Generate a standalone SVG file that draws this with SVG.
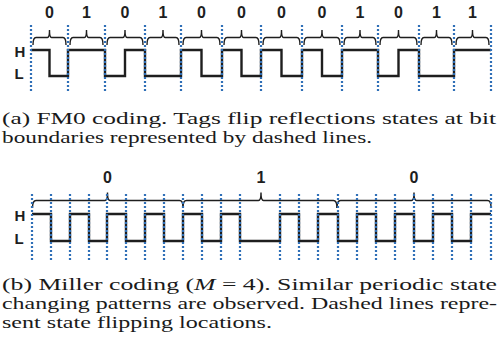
<svg xmlns="http://www.w3.org/2000/svg" width="500" height="348" viewBox="0 0 500 348">
<style>
.wave{fill:none;stroke:#1e1e1e;stroke-width:2.4;stroke-linejoin:miter}
.dash{stroke:#2f6fb7;stroke-width:2.2;stroke-dasharray:2 2}
.brace{fill:none;stroke:#1e1e1e;stroke-width:1.4}
.lbl{font-family:"Liberation Sans",Arial,sans-serif;font-weight:bold;fill:#1e1e1e;text-anchor:middle}
.bit{font-size:16px}
.lv{font-size:15px}
.cap{font-family:"Liberation Serif","Times New Roman",serif;font-size:17px;fill:#1a1a1a}
</style>
<rect width="500" height="348" fill="#ffffff"/>

<g id="fm0">
<path class="wave" d="M31,50 H49.5 V76 H68 V50 H105 V76 H125 V50 H145 V76 H181 V50 H201.5 V76 H222 V50 H241.5 V76 H261 V50 H281.5 V76 H302 V50 H322 V76 H342 V50 H378 V76 H398.5 V50 H419 V76 H454 V50 H491"/>
<g id="fm0-braces">
<path class="brace" d="M33,45 Q33,37.5 36,37.5 H47.5 Q49.5,37.5 49.5,30 Q49.5,37.5 51.5,37.5 H63 Q66,37.5 66,45"/>
<path class="brace" d="M70,45 Q70,37.5 73,37.5 H84.5 Q86.5,37.5 86.5,30 Q86.5,37.5 88.5,37.5 H100 Q103,37.5 103,45"/>
<path class="brace" d="M107,45 Q107,37.5 110,37.5 H123 Q125,37.5 125,30 Q125,37.5 127,37.5 H140 Q143,37.5 143,45"/>
<path class="brace" d="M147,45 Q147,37.5 150,37.5 H161 Q163,37.5 163,30 Q163,37.5 165,37.5 H176 Q179,37.5 179,45"/>
<path class="brace" d="M183,45 Q183,37.5 186,37.5 H199.5 Q201.5,37.5 201.5,30 Q201.5,37.5 203.5,37.5 H217 Q220,37.5 220,45"/>
<path class="brace" d="M224,45 Q224,37.5 227,37.5 H239.5 Q241.5,37.5 241.5,30 Q241.5,37.5 243.5,37.5 H256 Q259,37.5 259,45"/>
<path class="brace" d="M263,45 Q263,37.5 266,37.5 H279.5 Q281.5,37.5 281.5,30 Q281.5,37.5 283.5,37.5 H297 Q300,37.5 300,45"/>
<path class="brace" d="M304,45 Q304,37.5 307,37.5 H320 Q322,37.5 322,30 Q322,37.5 324,37.5 H337 Q340,37.5 340,45"/>
<path class="brace" d="M344,45 Q344,37.5 347,37.5 H358 Q360,37.5 360,30 Q360,37.5 362,37.5 H373 Q376,37.5 376,45"/>
<path class="brace" d="M380,45 Q380,37.5 383,37.5 H396.5 Q398.5,37.5 398.5,30 Q398.5,37.5 400.5,37.5 H414 Q417,37.5 417,45"/>
<path class="brace" d="M421,45 Q421,37.5 424,37.5 H434.5 Q436.5,37.5 436.5,30 Q436.5,37.5 438.5,37.5 H449 Q452,37.5 452,45"/>
<path class="brace" d="M456,45 Q456,37.5 459,37.5 H470.5 Q472.5,37.5 472.5,30 Q472.5,37.5 474.5,37.5 H486 Q489,37.5 489,45"/>
</g>
<g id="fm0-dashes">
<line class="dash" x1="31" y1="25" x2="31" y2="93"/>
<line class="dash" x1="68" y1="25" x2="68" y2="93"/>
<line class="dash" x1="105" y1="25" x2="105" y2="93"/>
<line class="dash" x1="145" y1="25" x2="145" y2="93"/>
<line class="dash" x1="181" y1="25" x2="181" y2="93"/>
<line class="dash" x1="222" y1="25" x2="222" y2="93"/>
<line class="dash" x1="261" y1="25" x2="261" y2="93"/>
<line class="dash" x1="302" y1="25" x2="302" y2="93"/>
<line class="dash" x1="342" y1="25" x2="342" y2="93"/>
<line class="dash" x1="378" y1="25" x2="378" y2="93"/>
<line class="dash" x1="419" y1="25" x2="419" y2="93"/>
<line class="dash" x1="454" y1="25" x2="454" y2="93"/>
<line class="dash" x1="491" y1="25" x2="491" y2="93"/>
</g>
<g id="fm0-labels" class="lbl bit">
<text x="49.5" y="18">0</text>
<text x="86.5" y="18">1</text>
<text x="125" y="18">0</text>
<text x="163" y="18">1</text>
<text x="201.5" y="18">0</text>
<text x="241.5" y="18">0</text>
<text x="281.5" y="18">0</text>
<text x="322" y="18">0</text>
<text x="360" y="18">1</text>
<text x="398.5" y="18">0</text>
<text x="436.5" y="18">1</text>
<text x="472.5" y="18">1</text>
</g>
<text class="lbl lv" x="20" y="57">H</text>
<text class="lbl lv" x="19" y="79">L</text>
</g>

<g id="caption-a" class="cap">
<text x="2" y="123.5" textLength="494" lengthAdjust="spacingAndGlyphs">(a) FM0 coding. Tags flip reflections states at bit</text>
<text x="2" y="142.5" textLength="370" lengthAdjust="spacingAndGlyphs">boundaries represented by dashed lines.</text>
</g>

<g id="miller">
<path class="wave" d="M32,214 H51 V241 H70 V214 H89 V241 H107 V214 H126 V241 H145 V214 H164 V241 H183 V214 H202 V241 H221 V214 H240 V241 H280 V214 H299 V241 H318 V214 H338 V241 H357 V214 H376 V241 H395 V214 H414 V241 H433 V214 H452 V241 H471 V214 H491"/>
<g id="miller-braces">
<path class="brace" d="M32.5,208 Q32.5,200.5 36,200.5 H105 Q107.5,200.5 107.5,192.5 Q107.5,200.5 110,200.5 H179.5 Q183,200.5 183,207"/>
<path class="brace" d="M183,207 Q183,200.5 186.5,200.5 H258.5 Q261,200.5 261,192.5 Q261,200.5 263.5,200.5 H333.5 Q337,200.5 337,208"/>
<path class="brace" d="M337,208 Q337,200.5 340.5,200.5 H411.5 Q414,200.5 414,192.5 Q414,200.5 416.5,200.5 H487.5 Q491,200.5 491,207"/>
</g>
<g id="miller-dashes">
<line class="dash" x1="32" y1="194" x2="32" y2="260"/>
<line class="dash" x1="51" y1="194" x2="51" y2="260"/>
<line class="dash" x1="70" y1="194" x2="70" y2="260"/>
<line class="dash" x1="89" y1="194" x2="89" y2="260"/>
<line class="dash" x1="107" y1="194" x2="107" y2="260"/>
<line class="dash" x1="126" y1="194" x2="126" y2="260"/>
<line class="dash" x1="145" y1="194" x2="145" y2="260"/>
<line class="dash" x1="164" y1="194" x2="164" y2="260"/>
<line class="dash" x1="183" y1="194" x2="183" y2="260"/>
<line class="dash" x1="202" y1="194" x2="202" y2="260"/>
<line class="dash" x1="221" y1="194" x2="221" y2="260"/>
<line class="dash" x1="240" y1="194" x2="240" y2="260"/>
<line class="dash" x1="280" y1="194" x2="280" y2="260"/>
<line class="dash" x1="299" y1="194" x2="299" y2="260"/>
<line class="dash" x1="318" y1="194" x2="318" y2="260"/>
<line class="dash" x1="338" y1="194" x2="338" y2="260"/>
<line class="dash" x1="357" y1="194" x2="357" y2="260"/>
<line class="dash" x1="376" y1="194" x2="376" y2="260"/>
<line class="dash" x1="395" y1="194" x2="395" y2="260"/>
<line class="dash" x1="414" y1="194" x2="414" y2="260"/>
<line class="dash" x1="433" y1="194" x2="433" y2="260"/>
<line class="dash" x1="452" y1="194" x2="452" y2="260"/>
<line class="dash" x1="471" y1="194" x2="471" y2="260"/>
<line class="dash" x1="491" y1="194" x2="491" y2="260"/>
</g>
<g id="miller-labels" class="lbl bit">
<text x="107.5" y="183">0</text>
<text x="261" y="183">1</text>
<text x="414" y="183">0</text>
</g>
<text class="lbl lv" x="20" y="221">H</text>
<text class="lbl lv" x="19" y="244">L</text>
</g>

<g id="caption-b" class="cap">
<text x="2" y="289.5" textLength="495" lengthAdjust="spacingAndGlyphs">(b) Miller coding (<tspan font-style="italic">M</tspan> = 4). Similar periodic state</text>
<text x="2" y="308.5" textLength="495" lengthAdjust="spacingAndGlyphs">changing patterns are observed. Dashed lines repre-</text>
<text x="2" y="327.5" textLength="270" lengthAdjust="spacingAndGlyphs">sent state flipping locations.</text>
</g>
</svg>
